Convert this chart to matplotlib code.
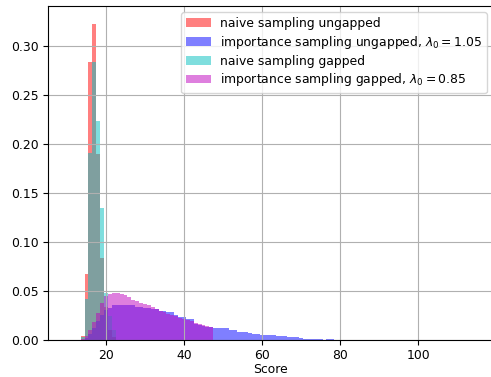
import numpy as np
import matplotlib
matplotlib.use("Agg")
import matplotlib.pyplot as plt

# Integer score bins (one unit wide, centred on each score)
score_bins = np.arange(13.5, 80.5, 1.0)

# Naive sampling, ungapped alignment scores
naive_ungapped_scores = [14, 15, 16, 17, 18, 19, 20, 21, 22]
naive_ungapped_density = [0.004, 0.067, 0.284, 0.323, 0.190, 0.084, 0.034, 0.010, 0.003]

# Importance sampling, ungapped (lambda_0 = 1.05)
importance_ungapped_scores = list(range(15, 76)) + [77, 78]
importance_ungapped_density = [
    0.002, 0.006, 0.012, 0.019, 0.026, 0.031,            # 15-20
    0.033, 0.036, 0.036, 0.036, 0.0355, 0.0355, 0.0355,  # 21-27
    0.034, 0.034, 0.033, 0.033, 0.032, 0.032, 0.030,     # 28-34
    0.030, 0.0286, 0.0286, 0.026, 0.023, 0.023, 0.021,   # 35-41
    0.021, 0.0165, 0.0155, 0.0145, 0.0135, 0.013,        # 42-47
    0.012, 0.012, 0.012, 0.012, 0.0102, 0.0102,          # 48-53
    0.0085, 0.0085, 0.0085, 0.0075, 0.0058, 0.0058,      # 54-59
    0.0048, 0.0048, 0.0048, 0.0048, 0.0041, 0.0041,      # 60-65
    0.0041, 0.0027, 0.0027, 0.0027, 0.002,               # 66-70
    0.0014, 0.0014, 0.0014, 0.0014, 0.0014,              # 71-75
    0.0014, 0.0014,                                      # 77-78
]

# Naive sampling, gapped alignment scores
naive_gapped_scores = [14, 15, 16, 17, 18, 19, 20, 21, 22]
naive_gapped_density = [0.003, 0.042, 0.191, 0.284, 0.224, 0.135, 0.048, 0.025, 0.010]

# Importance sampling, gapped (lambda_0 = 0.85)
importance_gapped_scores = list(range(14, 48))
importance_gapped_density = [
    0.001, 0.004, 0.010, 0.018, 0.028, 0.038, 0.045,     # 14-20
    0.047, 0.048, 0.048, 0.047, 0.0455, 0.0435, 0.041,   # 21-27
    0.0395, 0.038, 0.0367, 0.0354, 0.0335, 0.032, 0.030, # 28-34
    0.0286, 0.027, 0.026, 0.0245, 0.0224, 0.021, 0.0205, # 35-41
    0.019, 0.017, 0.016, 0.015, 0.014, 0.0136,           # 42-47
]

FS = 8.9
plt.rcParams['font.family'] = ['DejaVu Sans']
plt.rcParams['font.size'] = FS

fig = plt.figure(figsize=(4.91, 3.77), dpi=100)
ax = fig.add_axes([48 / 491, 37 / 377, (493 - 48) / 491, 334 / 377])

ax.hist(naive_ungapped_scores, bins=score_bins, weights=naive_ungapped_density,
        color='r', alpha=0.5, label='naive sampling ungapped')
ax.hist(importance_ungapped_scores, bins=score_bins, weights=importance_ungapped_density,
        color='b', alpha=0.5, label=r'importance sampling ungapped, $\lambda_0 = 1.05$')
ax.hist(naive_gapped_scores, bins=score_bins, weights=naive_gapped_density,
        color='c', alpha=0.5, label='naive sampling gapped')
ax.hist(importance_gapped_scores, bins=score_bins, weights=importance_gapped_density,
        color='m', alpha=0.5, label=r'importance sampling gapped, $\lambda_0 = 0.85$')

ax.set_xlim(5.13, 119.2)
ax.set_ylim(0, 0.341)
ax.set_xticks([20, 40, 60, 80, 100])
ax.set_yticks([0.00, 0.05, 0.10, 0.15, 0.20, 0.25, 0.30])
ax.yaxis.set_major_formatter(matplotlib.ticker.FormatStrFormatter('%.2f'))
ax.grid(True)
ax.set_xlabel('Score', fontsize=FS, labelpad=1)
ax.tick_params(labelsize=FS, pad=3)
ax.legend(loc='upper right', fontsize=FS, labelspacing=0.3, handletextpad=0.7)

fig.savefig('out.png', dpi=100)
